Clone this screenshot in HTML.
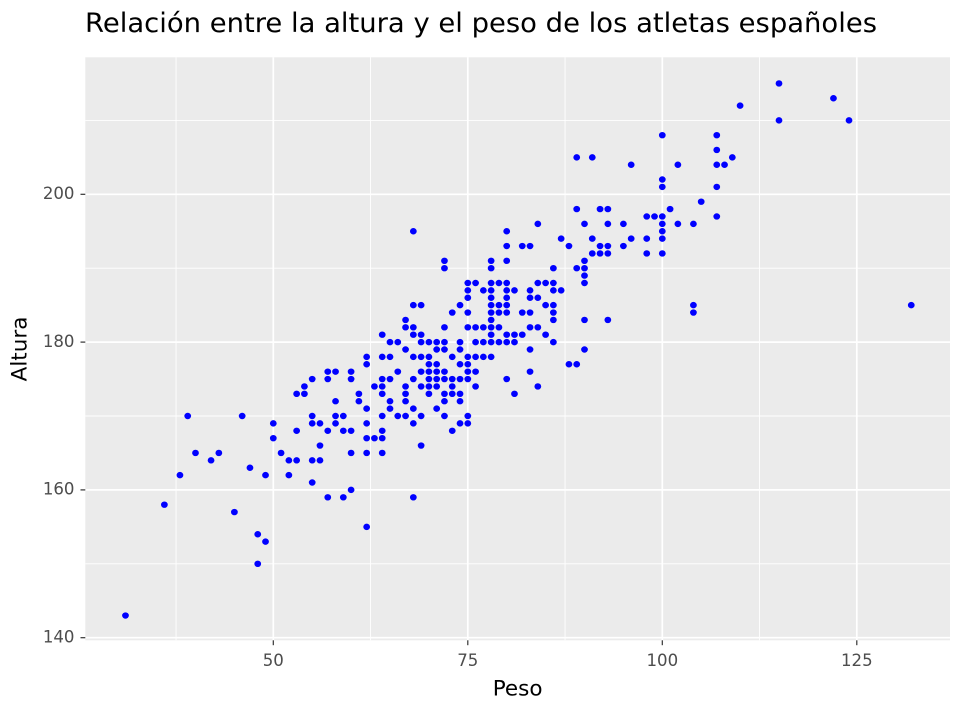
<!DOCTYPE html>
<html>
<head>
<meta charset="utf-8">
<style>
html,body{margin:0;padding:0;background:#fff;}
svg{display:block;}
text{font-family:"DejaVu Sans","Liberation Sans",sans-serif;}
</style>
</head>
<body>
<svg width="960" height="720" viewBox="0 0 960 720" xmlns="http://www.w3.org/2000/svg">
<rect x="0" y="0" width="960" height="720" fill="#fff"/>
<text x="85" y="32" font-size="26.5" fill="#000" textLength="792" lengthAdjust="spacingAndGlyphs">Relación entre la altura y el peso de los atletas españoles</text>
<rect x="85.3" y="57.3" width="864.7" height="583" fill="#EBEBEB"/>
<g stroke="#fff" stroke-width="0.9">
<line x1="176.05" y1="57.3" x2="176.05" y2="640.3"/>
<line x1="370.55" y1="57.3" x2="370.55" y2="640.3"/>
<line x1="565.05" y1="57.3" x2="565.05" y2="640.3"/>
<line x1="759.55" y1="57.3" x2="759.55" y2="640.3"/>
<line x1="85.3" y1="120.4" x2="950" y2="120.4"/>
<line x1="85.3" y1="268.2" x2="950" y2="268.2"/>
<line x1="85.3" y1="416.0" x2="950" y2="416.0"/>
<line x1="85.3" y1="563.8" x2="950" y2="563.8"/>
</g>
<g stroke="#fff" stroke-width="1.7">
<line x1="273.3" y1="57.3" x2="273.3" y2="640.3"/>
<line x1="467.8" y1="57.3" x2="467.8" y2="640.3"/>
<line x1="662.3" y1="57.3" x2="662.3" y2="640.3"/>
<line x1="856.8" y1="57.3" x2="856.8" y2="640.3"/>
<line x1="85.3" y1="194.3" x2="950" y2="194.3"/>
<line x1="85.3" y1="342.1" x2="950" y2="342.1"/>
<line x1="85.3" y1="489.9" x2="950" y2="489.9"/>
<line x1="85.3" y1="637.7" x2="950" y2="637.7"/>
</g>
<g stroke="#333" stroke-width="1.2">
<line x1="80.5" y1="194.3" x2="85.3" y2="194.3"/>
<line x1="80.5" y1="342.1" x2="85.3" y2="342.1"/>
<line x1="80.5" y1="489.9" x2="85.3" y2="489.9"/>
<line x1="80.5" y1="637.7" x2="85.3" y2="637.7"/>
<line x1="273.3" y1="640.3" x2="273.3" y2="645.2"/>
<line x1="467.8" y1="640.3" x2="467.8" y2="645.2"/>
<line x1="662.3" y1="640.3" x2="662.3" y2="645.2"/>
<line x1="856.8" y1="640.3" x2="856.8" y2="645.2"/>
</g>
<g font-size="16.6" fill="#4D4D4D" text-anchor="end">
<text x="74.5" y="199.0">200</text>
<text x="74.5" y="346.8">180</text>
<text x="74.5" y="494.6">160</text>
<text x="74.5" y="642.4">140</text>
</g>
<g font-size="16.6" fill="#4D4D4D" text-anchor="middle">
<text x="273.3" y="666">50</text>
<text x="467.8" y="666">75</text>
<text x="662.3" y="666">100</text>
<text x="856.8" y="666">125</text>
</g>
<text x="517.6" y="695.7" font-size="21.5" fill="#000" text-anchor="middle">Peso</text>
<text transform="translate(26.5,349) rotate(-90)" x="0" y="0" font-size="21.5" fill="#000" text-anchor="middle">Altura</text>
<g transform="matrix(7.78 0 0 -7.39 -115.7 1672.3)">
<path fill="none" stroke="#0000FF" stroke-width="0.87" stroke-linecap="round" d="
M115 215h0 M122 213h0 M110 212h0 M115 210h0 M124 210h0 M100 208h0 M107 208h0 M107 206h0
M89 205h0 M91 205h0 M109 205h0
M96 204h0 M102 204h0 M107 204h0 M108 204h0
M100 202h0 M100 201h0 M107 201h0 M105 199h0
M89 198h0 M92 198h0 M93 198h0 M101 198h0
M98 197h0 M99 197h0 M100 197h0 M107 197h0
M84 196h0 M90 196h0 M93 196h0 M95 196h0 M100 196h0 M102 196h0 M104 196h0
M68 195h0 M80 195h0 M100 195h0
M87 194h0 M91 194h0 M96 194h0 M98 194h0 M100 194h0
M80 193h0 M82 193h0 M83 193h0 M88 193h0 M92 193h0 M93 193h0 M95 193h0
M91 192h0 M92 192h0 M93 192h0 M98 192h0 M100 192h0
M72 191h0 M78 191h0 M80 191h0 M90 191h0
M72 190h0 M78 190h0 M86 190h0 M89 190h0 M90 190h0
M90 189h0
M75 188h0 M76 188h0 M78 188h0 M79 188h0 M80 188h0 M84 188h0 M85 188h0 M86 188h0 M90 188h0
M75 187h0 M77 187h0 M78 187h0 M80 187h0 M81 187h0 M83 187h0 M86 187h0 M87 187h0
M75 186h0 M78 186h0 M80 186h0 M83 186h0 M84 186h0
M68 185h0 M69 185h0 M74 185h0 M78 185h0 M79 185h0 M80 185h0 M85 185h0 M86 185h0 M104 185h0 M132 185h0
M73 184h0 M75 184h0 M78 184h0 M79 184h0 M80 184h0 M82 184h0 M83 184h0 M86 184h0 M104 184h0
M67 183h0 M78 183h0 M86 183h0 M90 183h0 M93 183h0
M67 182h0 M68 182h0 M72 182h0 M75 182h0 M76 182h0 M77 182h0 M78 182h0 M79 182h0 M83 182h0 M84 182h0
M64 181h0 M68 181h0 M69 181h0 M78 181h0 M80 181h0 M81 181h0 M82 181h0 M85 181h0
M65 180h0 M66 180h0 M69 180h0 M70 180h0 M71 180h0 M72 180h0 M74 180h0 M76 180h0 M77 180h0 M78 180h0 M79 180h0 M80 180h0 M81 180h0 M86 180h0
M67 179h0 M71 179h0 M72 179h0 M74 179h0 M83 179h0 M90 179h0
M62 178h0 M64 178h0 M65 178h0 M68 178h0 M69 178h0 M70 178h0 M73 178h0 M75 178h0 M76 178h0 M77 178h0 M78 178h0
M62 177h0 M70 177h0 M71 177h0 M74 177h0 M75 177h0 M88 177h0 M89 177h0
M57 176h0 M58 176h0 M60 176h0 M66 176h0 M69 176h0 M70 176h0 M71 176h0 M72 176h0 M75 176h0 M76 176h0 M83 176h0
M55 175h0 M57 175h0 M60 175h0 M64 175h0 M65 175h0 M68 175h0 M70 175h0 M71 175h0 M72 175h0 M73 175h0 M74 175h0 M75 175h0 M80 175h0
M54 174h0 M63 174h0 M64 174h0 M67 174h0 M69 174h0 M70 174h0 M71 174h0 M73 174h0 M76 174h0 M84 174h0
M53 173h0 M54 173h0 M61 173h0 M64 173h0 M67 173h0 M70 173h0 M72 173h0 M73 173h0 M74 173h0 M81 173h0
M58 172h0 M61 172h0 M65 172h0 M67 172h0 M72 172h0 M74 172h0
M62 171h0 M65 171h0 M68 171h0 M71 171h0
M39 170h0 M46 170h0 M55 170h0 M58 170h0 M59 170h0 M64 170h0 M66 170h0 M67 170h0 M69 170h0 M72 170h0 M75 170h0
M50 169h0 M55 169h0 M56 169h0 M58 169h0 M62 169h0 M68 169h0 M74 169h0 M75 169h0
M53 168h0 M57 168h0 M59 168h0 M60 168h0 M64 168h0 M73 168h0
M50 167h0 M62 167h0 M63 167h0 M64 167h0
M56 166h0 M69 166h0
M40 165h0 M43 165h0 M51 165h0 M60 165h0 M62 165h0 M64 165h0
M42 164h0 M52 164h0 M53 164h0 M55 164h0 M56 164h0
M47 163h0 M38 162h0 M49 162h0 M52 162h0 M55 161h0 M60 160h0
M57 159h0 M59 159h0 M68 159h0 M36 158h0 M45 157h0 M62 155h0
M48 154h0 M49 153h0 M48 150h0 M31 143h0"/>
</g>
</svg>
</body>
</html>
